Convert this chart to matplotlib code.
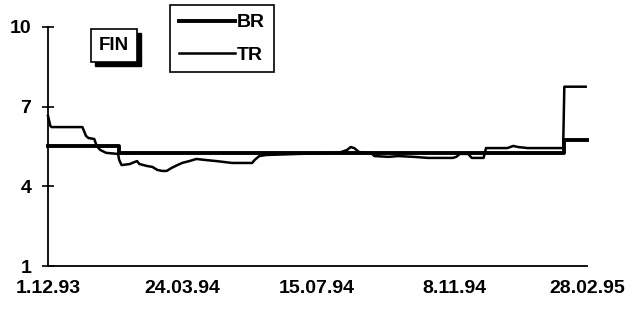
import matplotlib
matplotlib.use("Agg")
import matplotlib.pyplot as plt
import matplotlib.patches as mpatches
import pandas as pd

plt.rcParams['font.family'] = ['Liberation Sans', 'DejaVu Sans']

# series, x as days after 1.12.93
start = pd.Timestamp('1993-12-01')

br_day = [0, 60, 60, 435, 435, 454]
br_val = [5.5, 5.5, 5.25, 5.25, 5.75, 5.75]

tr_day = [0, 2, 3, 29, 32, 34, 39, 41, 44, 49, 59, 60, 62, 69, 71, 75, 77, 83, 88,
          92, 96, 100, 104, 109, 113, 119, 125, 133, 142, 155, 172, 174, 178, 184,
          211, 245, 252, 255, 258, 262, 272, 275, 287, 295, 308, 320, 341, 344, 347,
          354, 357, 367, 369, 387, 392, 396, 404, 434, 435, 453]
tr_val = [6.65, 6.27, 6.23, 6.23, 5.90, 5.82, 5.78, 5.52, 5.37, 5.26, 5.22, 4.99, 4.80,
          4.84, 4.88, 4.95, 4.84, 4.77, 4.73, 4.62, 4.58, 4.58, 4.69, 4.80, 4.88, 4.95,
          5.03, 4.99, 4.95, 4.88, 4.88, 4.99, 5.14, 5.18, 5.22, 5.26, 5.37, 5.48, 5.44,
          5.29, 5.26, 5.14, 5.11, 5.14, 5.11, 5.07, 5.07, 5.11, 5.22, 5.22, 5.07, 5.07,
          5.44, 5.44, 5.52, 5.48, 5.44, 5.44, 7.75, 7.75]

tick_dates = ['1993-12-01', '1994-03-24', '1994-07-15', '1994-11-08', '1995-02-28']
tick_labels = ['1.12.93', '24.03.94', '15.07.94', '8.11.94', '28.02.95']
y_ticks = [1, 4, 7, 10]

br_x = [start + pd.Timedelta(days=d) for d in br_day]
tr_x = [start + pd.Timedelta(days=d) for d in tr_day]

W, H = 640, 313
fig = plt.figure(figsize=(6.4, 3.13), dpi=100)
ax = fig.add_axes([0.075, 0.150, 0.842, 0.764])

ax.plot(br_x, br_val, color='black', lw=2.8, label='BR', clip_on=False)
ax.plot(tr_x, tr_val, color='black', lw=1.8, label='TR', clip_on=False)

ax.set_ylim(1, 10)
ax.set_xlim(start, pd.Timestamp('1995-02-28'))
ax.set_yticks(y_ticks)
ax.set_yticklabels([str(v) for v in y_ticks])
ax.set_xticks(pd.to_datetime(tick_dates))
ax.set_xticklabels(tick_labels)
ax.tick_params(axis='y', direction='inout', length=8, width=1.2, labelsize=14, pad=8)
ax.tick_params(axis='x', length=0, labelsize=14, pad=10)
for lbl in ax.get_xticklabels() + ax.get_yticklabels():
    lbl.set_fontweight('bold')
for s in ['top', 'right']:
    ax.spines[s].set_visible(False)
for s in ['left', 'bottom']:
    ax.spines[s].set_linewidth(1.3)

leg = ax.legend(loc='upper left', bbox_to_anchor=(170 / W, 1 - 5 / H),
                bbox_transform=fig.transFigure, handlelength=2.9,
                handletextpad=0.1, borderpad=0.45, labelspacing=0.75, borderaxespad=0,
                fancybox=False, framealpha=1, edgecolor='black',
                prop={'weight': 'bold', 'size': 14})
leg.get_frame().set_linewidth(1.2)

# FIN label box with drop shadow (pixel layout of the box)
bx, by, bw, bh = 91, 29, 46, 33
fig.patches.append(mpatches.Rectangle(((bx + 4) / W, 1 - (by + bh + 4) / H), bw / W, bh / H,
                                      transform=fig.transFigure, facecolor='black',
                                      edgecolor='black', zorder=5))
fig.patches.append(mpatches.Rectangle((bx / W, 1 - (by + bh) / H), bw / W, bh / H,
                                      transform=fig.transFigure, facecolor='white',
                                      edgecolor='black', lw=1.2, zorder=6))
fig.text((bx + bw / 2) / W, 1 - (by + bh / 2) / H, 'FIN', fontsize=13.5, fontweight='bold',
         ha='center', va='center', zorder=7)

fig.savefig('out.png', dpi=100)
